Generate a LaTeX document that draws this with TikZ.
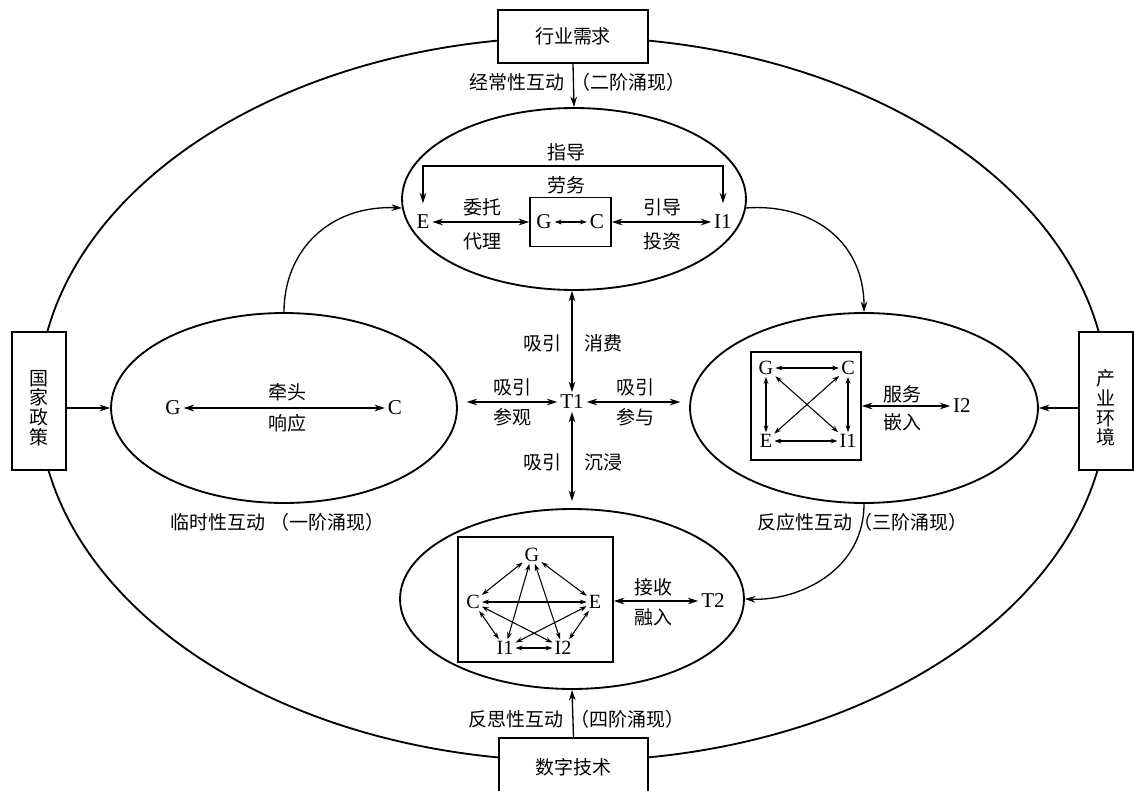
\documentclass[tikz,border=0pt]{standalone}
\usepackage{fontspec}
\setmainfont{Liberation Serif}
\newfontfamily\cjk{Noto Sans CJK SC}
\usetikzlibrary{arrows.meta,shapes.geometric}
\tikzset{
  arr/.style={-{Stealth[length=6pt,width=3.8pt]}, line width=0.75pt},
  darr/.style={{Stealth[length=6pt,width=3.8pt]}-{Stealth[length=6pt,width=3.8pt]}, line width=0.75pt},
  sarr/.style={{Stealth[length=4pt,width=2.7pt]}-{Stealth[length=4pt,width=2.7pt]}, line width=0.6pt},
  ell/.style={draw, ellipse, line width=1.05pt, inner sep=0pt},
  box/.style={draw, rectangle, line width=1pt, inner sep=0pt},
  lt/.style={font=\fontsize{12}{14}\selectfont, inner sep=1.5pt},
  st/.style={font=\fontsize{11.5}{13}\selectfont, inner sep=1pt},
  cj/.style={font=\cjk\fontsize{10.8}{13}\selectfont, inner sep=0pt},
}
\begin{document}
\begin{tikzpicture}[x=0.02cm,y=-0.02cm]
\useasboundingbox (0,0) rectangle (1134,791);
% outer ellipse
\node[ell, minimum width=21.4cm, minimum height=14.48cm] (outer) at (573,399) {};
% side boxes
\node[box, fill=white, minimum width=1.08cm, minimum height=2.76cm] (lbox) at (39,401) {};
\node[cj, align=center, font=\cjk\fontsize{10.8}{11.3}\selectfont] at (39,408) {国\\家\\政\\策};
\node[box, fill=white, minimum width=1.08cm, minimum height=2.76cm] (rboxs) at (1106,401) {};
\node[cj, align=center, font=\cjk\fontsize{10.8}{11.3}\selectfont] at (1106,408) {产\\业\\环\\境};
\node[box, fill=white, minimum width=3.0cm, minimum height=1.06cm, font=\cjk\fontsize{10.8}{13}\selectfont] (tbox) at (573,36.5) {行业需求};
\node[box, fill=white, minimum width=2.98cm, minimum height=1.16cm, font=\cjk\fontsize{10.8}{13}\selectfont] (bboxs) at (573.5,767) {数字技术};

% inner ellipses
\node[ell, minimum width=6.88cm, minimum height=3.64cm] (topell) at (574,199) {};
\node[ell, minimum width=6.92cm, minimum height=3.8cm] (leftell) at (284,408) {};
\node[ell, minimum width=6.96cm, minimum height=3.8cm] (rightell) at (864,408) {};
\node[ell, minimum width=6.88cm, minimum height=3.6cm] (botell) at (572,599) {};

% outer arrows
\draw[arr] (tbox.south) -- (topell.north);
\draw[arr] (bboxs.north) -- (botell.south);
\draw[arr] (lbox.east |- leftell.west) -- (leftell.west);
\draw[arr] (rboxs.west |- rightell.east) -- (rightell.east);
\node[cj, anchor=east] at (565,82) {经常性互动};
\node[cj, anchor=west] at (571,82) {（二阶涌现）};
\node[cj, anchor=east] at (564,719) {反思性互动};
\node[cj, anchor=west] at (570,719) {（四阶涌现）};
\node[cj] at (218,522) {临时性互动};
\node[cj, anchor=west] at (270,522) {（一阶涌现）};
\node[cj] at (805,522) {反应性互动};
\node[cj, anchor=west] at (853,522) {（三阶涌现）};

% curved arrows
\draw[arr] (leftell.north) .. controls (284,250) and (330,205) .. (topell.183);
\draw[arr] (topell.-3) .. controls (810,203) and (864,240) .. (rightell.north);
\draw[arr] (rightell.south) .. controls (864,570) and (800,601) .. (botell.east);

% top ellipse content
\node[lt] (tE) at (423,222) {E};
\node[box, minimum width=1.62cm, minimum height=0.98cm] (gcbox) at (570.5,222) {};
\node[lt] (tG) at (544,222) {G};
\node[lt] (tC) at (597,222) {C};
\node[lt] (tI1) at (723,222) {I1};
\draw[sarr] (tG) -- (tC);
\draw[darr] (tE.east) -- (gcbox.west |- tE.east);
\draw[darr] (gcbox.east |- tI1.west) -- (tI1.west);
\coordinate (zdy) at (573,166);
\draw[darr, shorten >=5pt, shorten <=5pt] (tE.north) -- (tE.north |- zdy) -- (tI1.north |- zdy) -- (tI1.north);
\node[cj] at (566,152) {指导};
\node[cj] at (566,185) {劳务};
\node[cj] at (482,207) {委托};
\node[cj] at (482,241) {代理};
\node[cj] at (662,207) {引导};
\node[cj] at (662,241) {投资};

% left ellipse content
\node[lt] (lG) at (173,408) {G};
\node[lt] (lC) at (395,408) {C};
\draw[darr] (lG) -- (lC);
\node[cj] at (287,392) {牵头};
\node[cj] at (287,423) {响应};

% center T1
\node[lt] (T1) at (572,402) {T1};
\draw[darr] (T1.north) -- (T1.north |- topell.south);
\draw[darr, shorten >=4pt] (T1.south) -- (T1.south |- botell.north);
\draw[darr, shorten >=5pt] (T1.west) -- (leftell.east |- T1.west);
\draw[darr, shorten >=5pt] (T1.east) -- (rightell.west |- T1.east);
\node[cj] at (542,343) {吸引};
\node[cj] at (603,343) {消费};
\node[cj] at (542,462) {吸引};
\node[cj] at (603,462) {沉浸};
\node[cj] at (512,387) {吸引};
\node[cj] at (512,417) {参观};
\node[cj] at (635,387) {吸引};
\node[cj] at (635,417) {参与};

% right ellipse content
\node[box, minimum width=2.2cm, minimum height=2.16cm] (rbox) at (806,406) {};
\node[st] (rG) at (766,368) {G};
\node[st] (rC) at (848,368) {C};
\node[st] (rE) at (766,441) {E};
\node[st] (rI1) at (848,441) {I1};
\draw[sarr] (rG) -- (rC);
\draw[sarr] (rE) -- (rI1);
\draw[sarr] (rG) -- (rE);
\draw[sarr] (rC) -- (rI1);
\draw[sarr] (rG) -- (rI1);
\draw[sarr] (rC) -- (rE);
\node[lt] (rI2) at (962,406) {I2};
\draw[darr] (rbox.east |- rI2.west) -- (rI2.west);
\node[cj] at (902,394) {服务};
\node[cj] at (902,422) {嵌入};

% bottom ellipse content
\node[box, minimum width=3.1cm, minimum height=2.5cm] (bbox) at (535.5,599.5) {};
\node[st] (pG) at (532,555) {G};
\node[st] (pC) at (473,602) {C};
\node[st] (pE) at (595,602) {E};
\node[st] (pI1) at (505,648) {I1};
\node[st] (pI2) at (563,648) {I2};
\draw[sarr] (pG) -- (pC);
\draw[sarr] (pG) -- (pE);
\draw[sarr] (pG) -- (pI1);
\draw[sarr] (pG) -- (pI2);
\draw[sarr] (pC) -- (pE);
\draw[sarr] (pC) -- (pI1);
\draw[sarr] (pC) -- (pI2);
\draw[sarr] (pE) -- (pI1);
\draw[sarr] (pE) -- (pI2);
\draw[sarr] (pI1) -- (pI2);
\node[lt] (T2) at (713,601) {T2};
\draw[darr] (bbox.east |- T2.west) -- (T2.west);
\node[cj] at (653,587) {接收};
\node[cj] at (653,617) {融入};
\end{tikzpicture}
\end{document}
